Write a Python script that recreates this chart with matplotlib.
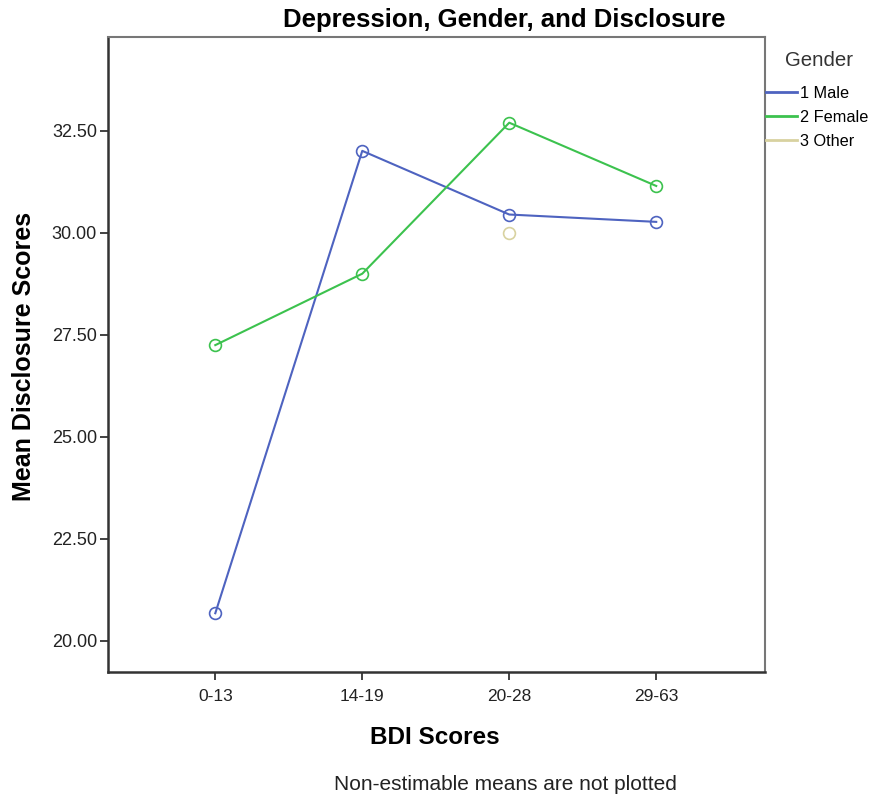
import matplotlib
matplotlib.use("Agg")
import matplotlib.pyplot as plt
from matplotlib.lines import Line2D

categories = ["0-13", "14-19", "20-28", "29-63"]
male = [20.68, 32.01, 30.45, 30.27]
female = [27.25, 29.00, 32.70, 31.15]
other_x = ["20-28"]
other = [30.00]
yticks = [20.0, 22.5, 25.0, 27.5, 30.0, 32.5]
legend_labels = ["1 Male", "2 Female", "3 Other"]

c_male = "#4E63C0"
c_female = "#3CC24E"
c_other = "#D8D2A0"

plt.rcParams['font.family'] = ['Liberation Sans', 'DejaVu Sans']
fig = plt.figure(figsize=(8.78, 8.01), dpi=100)
ax = fig.add_axes([108/878, 1-672/801, (765-108)/878, (672-37)/801])

xs = list(range(len(categories)))
ax.plot(xs, male, color=c_male, lw=1.5, marker='o', ms=8.5, mfc='none', mec=c_male, mew=1.2)
ax.plot(xs, female, color=c_female, lw=1.5, marker='o', ms=8.5, mfc='none', mec=c_female, mew=1.2)
ox = [categories.index(c) for c in other_x]
ax.plot(ox, other, color=c_other, lw=1.5, marker='o', ms=8.5, mfc='none', mec=c_other, mew=1.2, ls='none')

ax.set_xlim(-0.73, 3.74)
ax.set_ylim(19.24, 34.8)
ax.set_xticks(xs)
ax.set_xticklabels(categories, fontsize=12.5)
ax.set_yticks(yticks)
ax.set_yticklabels([f"{v:.2f}" for v in yticks], fontsize=13)
ax.tick_params(direction='out', length=6, width=1.2, colors='#222222', labelcolor='#222222')
ax.tick_params(axis='x', pad=6)
ax.tick_params(axis='y', pad=2)
for s in ['left', 'bottom']:
    ax.spines[s].set_linewidth(1.8)
    ax.spines[s].set_color('#333333')
for s in ['top', 'right']:
    ax.spines[s].set_linewidth(1.5)
    ax.spines[s].set_color('#777777')

fig.text(504/878, 1-20/801, "Depression, Gender, and Disclosure", ha='center', va='center',
         fontsize=18.5, fontweight='bold')
fig.text(435/878, 1-737/801, "BDI Scores", ha='center', va='center', fontsize=17.5, fontweight='bold')
fig.text(24/878, 1-356/801, "Mean Disclosure Scores", ha='center', va='center', rotation=90,
         fontsize=18, fontweight='bold')
fig.text(505/878, 1-785/801, "Non-estimable means are not plotted", ha='center', va='center',
         fontsize=15, color='#222222')
fig.text(819/878, 1-61/801, "Gender", ha='center', va='center', fontsize=14.7, color='#333333')

handles = [Line2D([], [], color=c, lw=2) for c in (c_male, c_female, c_other)]
leg = fig.legend(handles, legend_labels,
                 loc='upper left', bbox_to_anchor=(766/878, 1-86/801), frameon=False,
                 fontsize=11.7, handlelength=1.9, handletextpad=0.2,
                 labelspacing=0.55, borderaxespad=0, borderpad=0)

fig.savefig("out.png", dpi=100)
